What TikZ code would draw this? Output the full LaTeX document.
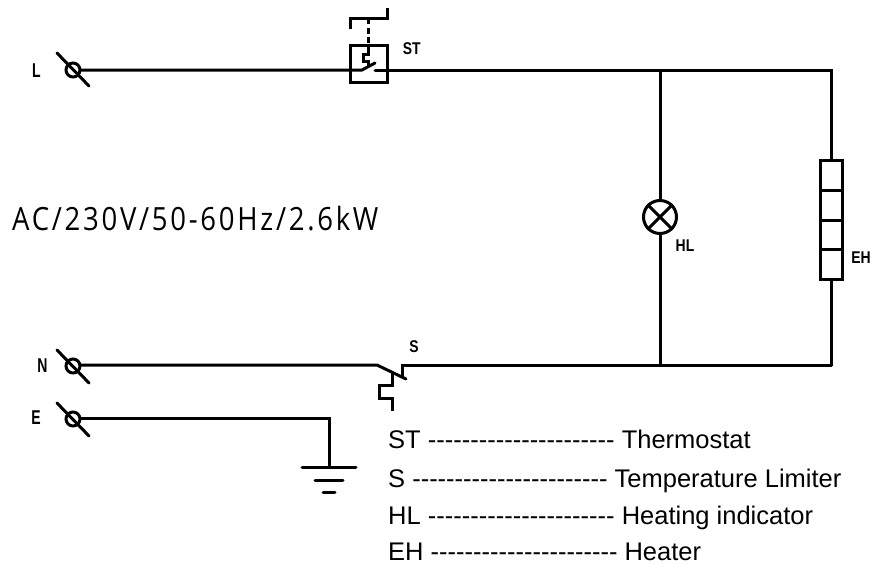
\documentclass[tikz,border=0pt]{standalone}
\usepackage{fontspec}
\newfontfamily\legfont{Liberation Sans}
\newfontfamily\cadfont[LetterSpace=8.5,FakeStretch=0.86]{Open Sans}
\newfontfamily\tagfont[FakeStretch=0.82]{Liberation Sans Bold}
\newfontfamily\bigtagfont[FakeStretch=0.7]{Liberation Sans Bold}
\tikzset{
  wire/.style={line width=3pt,line cap=round,line join=miter},
  tag/.style={inner sep=0pt,font=\tagfont\fontsize{17}{17}\selectfont},
  bigtag/.style={inner sep=0pt,font=\bigtagfont\fontsize{20}{20}\selectfont},
  legend/.style={anchor=base west,inner sep=0pt,font=\legfont\fontsize{25.5}{28}\selectfont},
  terminal/.style={circle,draw,line width=3pt,minimum size=14pt,inner sep=0pt},
}
\begin{document}
\begin{tikzpicture}[x=1pt,y=-1pt]
\useasboundingbox (0,0) rectangle (871,565);
% terminals
\node[terminal] (tl) at (73,70) {};
\node[terminal] (tn) at (73,366) {};
\node[terminal] (te) at (73,419) {};
\draw[wire] (57,53) -- (89,86);
\draw[wire] (57,350) -- (89,383);
\draw[wire] (57,403) -- (89,436);
\node[bigtag] (ll) at (36.5,70.5) {L};
\node[bigtag] (ln) at (42.5,366) {N};
\node[bigtag] (le) at (36,418) {E};
% coordinates
\coordinate (jt) at (660,70);
\coordinate (jb) at (660,365);
\coordinate (rt) at (831.5,70);
\coordinate (rb) at (831.5,365);
\coordinate (sta) at (362,70);
\coordinate (stb) at (375,70);
% ST
\draw[wire] (tl) ++(7,0) -- (sta) -- (375,63);
\draw[wire] (stb) -- (jt) -- (rt) -- (831.5,160);
\draw[wire,line cap=butt] (350,45) rectangle (387,82);
\draw[wire,line cap=butt] (350,29) -- (350,18) -- (387,18) -- (387,8);
\draw[wire,line cap=butt,dash pattern=on 6pt off 3.5pt] (368,18) -- (368,45);
\draw[wire,line cap=butt] (368,45) -- (368,54) -- (363,54) -- (363,61) -- (368,61) -- (368,66);
\node[tag] (lst) at (411.7,48.5) {ST};
% HL
\node[circle,draw,line width=3pt,minimum size=33pt,inner sep=0pt] (hl) at (660,217) {};
\draw[wire,line cap=butt] (hl.north west) -- (hl.south east);
\draw[wire,line cap=butt] (hl.north east) -- (hl.south west);
\draw[wire,line cap=butt] (jt) -- (hl.north);
\draw[wire,line cap=butt] (hl.south) -- (jb);
\node[tag] (lhl) at (685,245.5) {HL};
% EH
\node[draw,line width=3pt,minimum width=22.5pt,minimum height=119pt,inner sep=0pt] (eh) at (831.5,219.5) {};
\draw[wire,line cap=butt] (820.25,190) -- (842.75,190);
\draw[wire,line cap=butt] (820.25,220) -- (842.75,220);
\draw[wire,line cap=butt] (820.25,249.5) -- (842.75,249.5);
\draw[wire,line cap=butt] (eh.south) -- (rb);
\node[tag] (leh) at (861,258) {EH};
% N wire and S
\draw[wire] (tn) ++(7,-1) -- (377,365) -- (406,379);
\draw[wire] (402,377) -- (402,365) -- (jb) -- (rb);
\draw[wire,line cap=butt] (392,372) -- (392,385) -- (379.5,385) -- (379.5,398) -- (392,398) -- (392,411);
\node[tag] (ls) at (414,346.5) {S};
% E wire and ground
\coordinate (gt) at (329,467);
\draw[wire,line cap=butt] (te) ++(7,-1) -- (329,418) -- (gt);
\draw[wire] (302,467) -- (356,467);
\draw[wire] (315,480) -- (343,480);
\draw[wire] (323,492) -- (335,492);
% text
\node[anchor=base west,inner sep=0pt,font=\cadfont\fontsize{32}{34}\selectfont] (title) at (12,230) {AC/230V/50-60Hz/2.6kW};
\node[legend] (l1) at (388,448) {ST ---------------------- Thermostat};
\node[legend] (l2) at (388,487) {S ----------------------- Temperature Limiter};
\node[legend] (l3) at (388,524) {HL ---------------------- Heating indicator};
\node[legend] (l4) at (388,560) {EH ---------------------- Heater};
\end{tikzpicture}
\end{document}
